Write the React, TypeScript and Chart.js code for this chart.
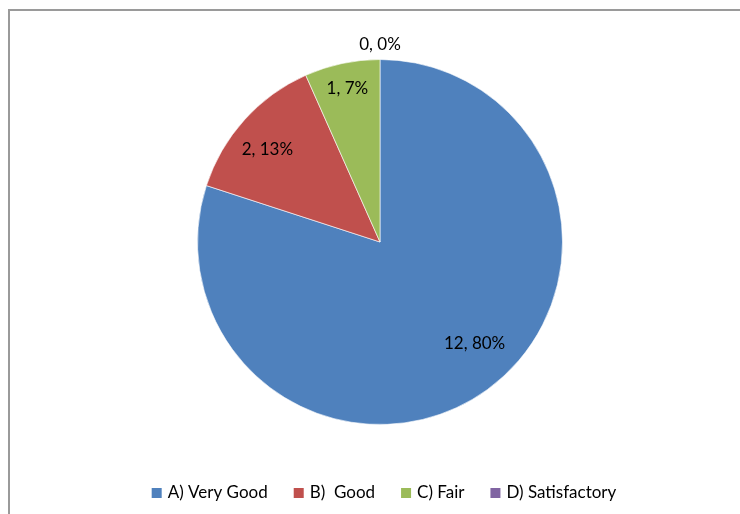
import React, { useEffect, useRef } from "react";
import { Chart, registerables } from "chart.js";

Chart.register(...registerables);

const categories = ["A) Very Good", "B)  Good", "C) Fair", "D) Satisfactory"];
const counts = [12, 2, 1, 0];
const colors = ["#4F81BD", "#C0504D", "#9BBB59", "#8064A2"];

const FONT = "Lato, 'Open Sans', sans-serif";

// label placement tweaks (fraction of radius, angle shift in degrees)
const labelRadius = [0.76, 0.8, 0.86, 1.08];
const labelShift = [-7, -2.5, 0, 0];

const labelPlugin = {
  id: "sliceLabels",
  afterDatasetsDraw(chart: any) {
    const ctx = chart.ctx;
    const meta = chart.getDatasetMeta(0);
    const data = chart.data.datasets[0].data as number[];
    const total = data.reduce((a, b) => a + b, 0);
    ctx.save();
    ctx.font = `17px ${FONT}`;
    ctx.fillStyle = "#000";
    ctx.textAlign = "center";
    ctx.textBaseline = "middle";
    meta.data.forEach((arc: any, i: number) => {
      const { x, y, startAngle, endAngle, outerRadius } = arc.getProps(
        ["x", "y", "startAngle", "endAngle", "outerRadius"],
        true
      );
      const mid = (startAngle + endAngle) / 2 + (labelShift[i] * Math.PI) / 180;
      const r = outerRadius * labelRadius[i];
      const pct = Math.round((data[i] / total) * 100);
      ctx.fillText(`${data[i]}, ${pct}%`, x + Math.cos(mid) * r, y + Math.sin(mid) * r);
    });
    ctx.restore();
  },
};

const legendPlugin = {
  id: "customLegend",
  afterDraw(chart: any) {
    const ctx = chart.ctx;
    const labels = chart.data.labels as string[];
    const bg = chart.data.datasets[0].backgroundColor as string[];
    ctx.save();
    ctx.font = `17px ${FONT}`;
    ctx.textBaseline = "middle";
    const box = 10;
    const gapBox = 6;
    const gapItem = 26;
    const widths = labels.map((l) => ctx.measureText(l).width);
    const total =
      widths.reduce((a, b) => a + b, 0) + labels.length * (box + gapBox) + gapItem * (labels.length - 1);
    let x = 384 - total / 2;
    const y = 493;
    labels.forEach((l, i) => {
      ctx.fillStyle = bg[i];
      ctx.fillRect(x, y - box / 2, box, box);
      x += box + gapBox;
      ctx.fillStyle = "#000";
      ctx.fillText(l, x, y);
      x += widths[i] + gapItem;
    });
    ctx.restore();
  },
};

export default function App() {
  const ref = useRef<HTMLCanvasElement>(null);
  useEffect(() => {
    const chart = new Chart(ref.current!, {
      type: "pie",
      data: {
        labels: categories,
        datasets: [
          {
            data: counts,
            backgroundColor: colors,
            borderColor: "rgba(255,255,255,0.6)",
            borderWidth: 1,
          },
        ],
      },
      options: {
        animation: false,
        responsive: false,
        layout: { padding: { top: 59, bottom: 89, left: 197, right: 177 } },
        plugins: { legend: { display: false }, tooltip: { enabled: false } },
      },
      plugins: [labelPlugin, legendPlugin],
    });
    return () => chart.destroy();
  }, []);
  return (
    <div
      style={{
        position: "fixed",
        left: 0,
        top: 0,
        width: 740,
        height: 514,
        overflow: "hidden",
        background: "#fff",
      }}
    >
      <div
        style={{
          position: "absolute",
          left: 8,
          top: 9,
          width: 800,
          height: 600,
          borderLeft: "2px solid #9a9a9a",
          borderTop: "2px solid #9a9a9a",
        }}
      />
      <canvas ref={ref} width={740} height={514} style={{ position: "absolute", left: 0, top: 0 }} />
    </div>
  );
}
